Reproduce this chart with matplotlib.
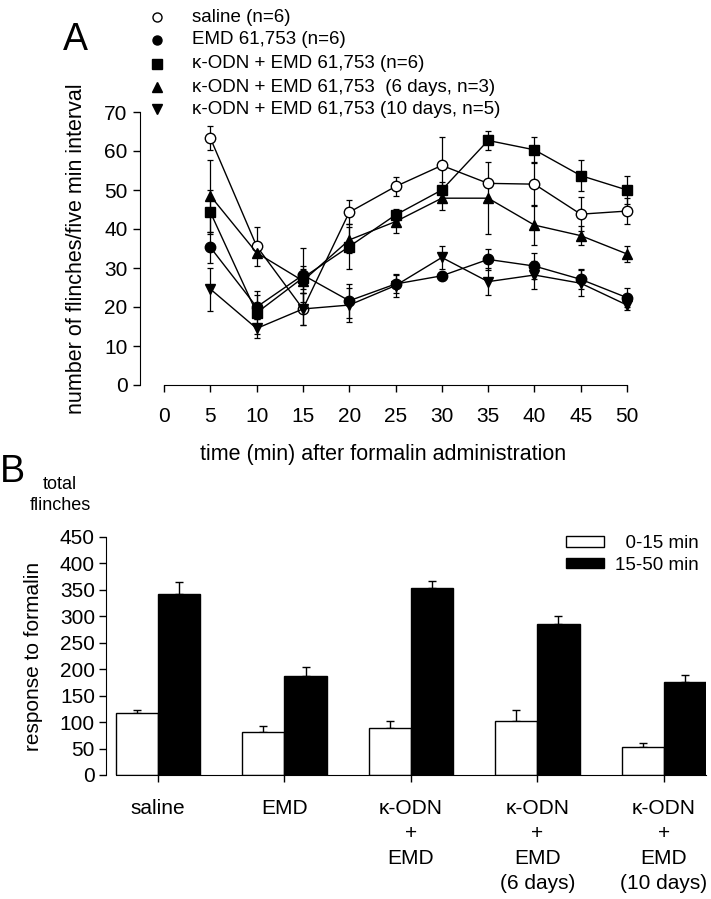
import numpy as np
import matplotlib
matplotlib.use('Agg')
import matplotlib.pyplot as plt
from matplotlib.lines import Line2D
from matplotlib.patches import Patch

plt.rcParams['font.family'] = ['Liberation Sans', 'DejaVu Sans']

W, H = 711, 899

# panel A: flinches por intervalo de 5 min
tiempos = [5, 10, 15, 20, 25, 30, 35, 40, 45, 50]
saline = [63.3, 35.6, 19.5, 44.3, 50.9, 56.3, 51.7, 51.5, 43.8, 44.6]
saline_err = [3.0, 5.0, 4.0, 3.1, 2.4, 7.4, 1.0, 5.3, 4.3, 3.3]
emd = [35.3, 20.0, 28.2, 21.6, 25.9, 28.0, 32.2, 30.5, 27.1, 22.4]
emd_err = [4.0, 3.0, 7.0, 4.4, 2.4, 1.0, 2.8, 3.4, 2.6, 2.4]
odn = [44.3, 18.5, 27.5, 35.5, 43.6, 50.0, 62.7, 60.3, 53.7, 50.0]
odn_err = [5.6, 5.5, 3.0, 5.8, 1.5, 2.0, 2.5, 3.2, 4.0, 3.6]
odn6 = [48.5, 33.9, 26.7, 37.2, 41.9, 47.9, 47.9, 41.0, 38.3, 33.6]
odn6_err = [9.2, 1.0, 3.1, 3.4, 2.8, 2.9, 9.2, 5.0, 2.4, 2.0]
odn10 = [24.6, 14.5, 19.5, 20.5, 25.5, 32.7, 26.5, 28.2, 26.1, 20.5]
odn10_err = [5.5, 2.5, 4.0, 4.4, 3.0, 3.0, 3.4, 3.7, 3.3, 1.3]

etiquetas_a = ['saline (n=6)',
               'EMD 61,753 (n=6)',
               'κ-ODN + EMD 61,753 (n=6)',
               'κ-ODN + EMD 61,753  (6 days, n=3)',
               'κ-ODN + EMD 61,753 (10 days, n=5)']

# panel B: total de flinches
grupos = ['saline', 'EMD', 'κ-ODN\n+\nEMD', 'κ-ODN\n+\nEMD\n(6 days)',
          'κ-ODN\n+\nEMD\n(10 days)']
temprana = [117, 81, 88, 103, 52]
temprana_err = [5, 12, 14, 20, 8]
tardia = [343, 187, 354, 285, 176]
tardia_err = [21, 17, 12, 16, 14]

fig = plt.figure(figsize=(W / 100, H / 100), dpi=100)

# ---- A ----
ax = fig.add_axes([140 / W, 1 - 385 / H, (627 - 140) / W, (385 - 112) / H])
series = [(saline, saline_err, 'o', 'white'),
          (emd, emd_err, 'o', 'black'),
          (odn, odn_err, 's', 'black'),
          (odn6, odn6_err, '^', 'black'),
          (odn10, odn10_err, 'v', 'black')]
for vals, err, mk, fc in series:
    ax.errorbar(tiempos, vals, yerr=err, fmt='none', ecolor='black',
                elinewidth=0.9, capsize=2.5, capthick=0.9, clip_on=False, zorder=2)
    ax.plot(tiempos, vals, color='black', lw=1.0, marker=mk, ms=7.5,
            mfc=fc, mec='black', mew=1.0, clip_on=False, zorder=3)

ax.set_xlim(-2.6, 50)
ax.set_ylim(0, 70)
ax.set_xticks(np.arange(0, 51, 5))
ax.set_yticks(np.arange(0, 71, 10))
for s in ['top', 'right']:
    ax.spines[s].set_visible(False)
ax.spines['left'].set_bounds(0, 70)
ax.spines['bottom'].set_bounds(0, 50)
ax.tick_params(direction='out', length=5, width=1, labelsize=15)
ax.tick_params(axis='y', pad=4)
ax.tick_params(axis='x', pad=11)
ax.set_ylabel('number of flinches/five min interval', fontsize=15.5, labelpad=12)
ax.set_xlabel('time (min) after formalin administration', fontsize=15.5, labelpad=13)

fig.text(63 / W, 1 - 50 / H, 'A', fontsize=27, ha='left', va='baseline')

filas = [17, 40, 64, 87, 109]
for (vals, err, mk, fc), lab, yy in zip(series, etiquetas_a, filas):
    fig.add_artist(Line2D([157 / W], [1 - yy / H], marker=mk, ms=6.5,
                          mfc=fc, mec='black', mew=1.0, ls='none',
                          transform=fig.transFigure))
    fig.text(192 / W, 1 - yy / H, lab, fontsize=13.5, va='center', ha='left')

# ---- B ----
bx = fig.add_axes([106 / W, 1 - 775 / H, 600 / W, 238 / H])
centros = np.arange(len(grupos)) * 3.0
bx.bar(centros - 0.5, temprana, width=1.0, color='white', edgecolor='black',
       linewidth=1.0, zorder=2)
bx.bar(centros + 0.5, tardia, width=1.0, color='black', edgecolor='black',
       linewidth=1.0, zorder=2)
bx.errorbar(centros - 0.5, temprana, yerr=[np.zeros(5), temprana_err], fmt='none',
            ecolor='black', elinewidth=1.0, capsize=3, capthick=1.0, zorder=1)
bx.errorbar(centros + 0.5, tardia, yerr=[np.zeros(5), tardia_err], fmt='none',
            ecolor='black', elinewidth=1.0, capsize=3, capthick=1.0, zorder=1)

bx.set_xlim(-1.234, 13)
bx.set_ylim(0, 450)
bx.set_yticks(np.arange(0, 451, 50))
bx.set_xticks(centros)
bx.set_xticklabels(grupos, fontsize=15, linespacing=1.4, va='top')
for s in ['top', 'right']:
    bx.spines[s].set_visible(False)
bx.spines['left'].set_bounds(0, 450)
bx.spines['bottom'].set_bounds(-1, 13)
bx.tick_params(direction='out', length=5, width=1, labelsize=15)
bx.tick_params(axis='y', pad=3)
bx.tick_params(axis='x', pad=12)
bx.set_ylabel('response to formalin', fontsize=15, labelpad=12)

leg = bx.legend(handles=[Patch(facecolor='white', edgecolor='black', lw=1.0),
                         Patch(facecolor='black', edgecolor='black', lw=1.0)],
                labels=['  0-15 min', '15-50 min'], loc='upper right',
                bbox_to_anchor=(1.0, 1.04), frameon=False, fontsize=13.5,
                handlelength=2.0, handleheight=0.5, handletextpad=0.6,
                labelspacing=0.25, borderaxespad=0.0)

fig.text(60 / W, 1 - 495 / H, 'total\nflinches', fontsize=13, ha='center',
         va='center', linespacing=1.3)
fig.text(0 / W, 1 - 482 / H, 'B', fontsize=27, ha='left', va='baseline')

fig.savefig('out.png', dpi=100)
